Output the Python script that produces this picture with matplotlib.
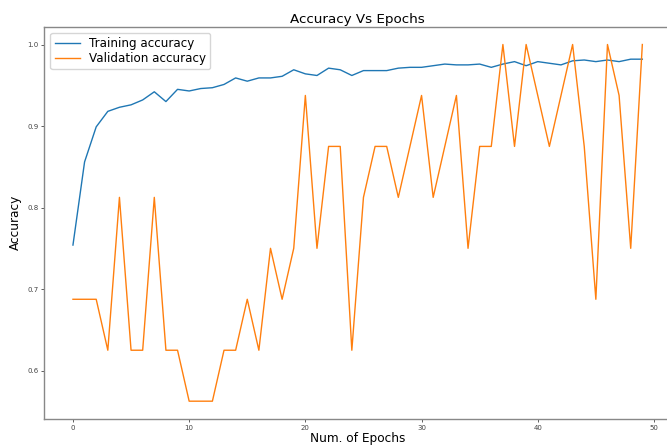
import matplotlib
matplotlib.use("Agg")
import matplotlib.pyplot as plt

# per-epoch accuracy from the training run
epochs = list(range(50))
train_acc = [0.754, 0.856, 0.899, 0.918, 0.923, 0.926, 0.932, 0.942, 0.930, 0.945,
             0.943, 0.946, 0.947, 0.951, 0.959, 0.955, 0.959, 0.959, 0.961, 0.969,
             0.964, 0.962, 0.971, 0.969, 0.962, 0.968, 0.968, 0.968, 0.971, 0.972,
             0.972, 0.974, 0.976, 0.975, 0.975, 0.976, 0.972, 0.976, 0.979, 0.974,
             0.979, 0.977, 0.975, 0.980, 0.981, 0.979, 0.981, 0.979, 0.982, 0.982]
val_acc = [0.6875, 0.6875, 0.6875, 0.625, 0.8125, 0.625, 0.625, 0.8125, 0.625, 0.625,
           0.5625, 0.5625, 0.5625, 0.625, 0.625, 0.6875, 0.625, 0.75, 0.6875, 0.75,
           0.9375, 0.75, 0.875, 0.875, 0.625, 0.8125, 0.875, 0.875, 0.8125, 0.875,
           0.9375, 0.8125, 0.875, 0.9375, 0.75, 0.875, 0.875, 1.0, 0.875, 1.0,
           0.9375, 0.875, 0.9375, 1.0, 0.875, 0.6875, 1.0, 0.9375, 0.75, 1.0]

fig = plt.figure(figsize=(6.67, 4.46), dpi=100)
# axes runs slightly past the right edge of the canvas
ax = fig.add_axes([0.0667, 0.0605, 0.939, 0.8797])

ax.plot(epochs, train_acc, color="#1f77b4", lw=1.0, label="Training accuracy")
ax.plot(epochs, val_acc, color="#ff7f0e", lw=1.0, label="Validation accuracy")

ax.set_title("Accuracy Vs Epochs", fontsize=9.7, pad=3)
ax.set_xlabel("Num. of Epochs", fontsize=8.7, labelpad=1)
ax.set_ylabel("Accuracy", fontsize=8.7, labelpad=4)
ax.tick_params(labelsize=5, length=2, width=0.6, pad=2, colors="#444444")
for s in ax.spines.values():
    s.set_color("#888888")
    s.set_linewidth(1.0)
ax.spines["right"].set_visible(False)

ax.legend(loc="upper left", fontsize=8.6, borderaxespad=0.5,
          handlelength=2.1, labelspacing=0.2, borderpad=0.35)

fig.savefig("out.png", dpi=100)
